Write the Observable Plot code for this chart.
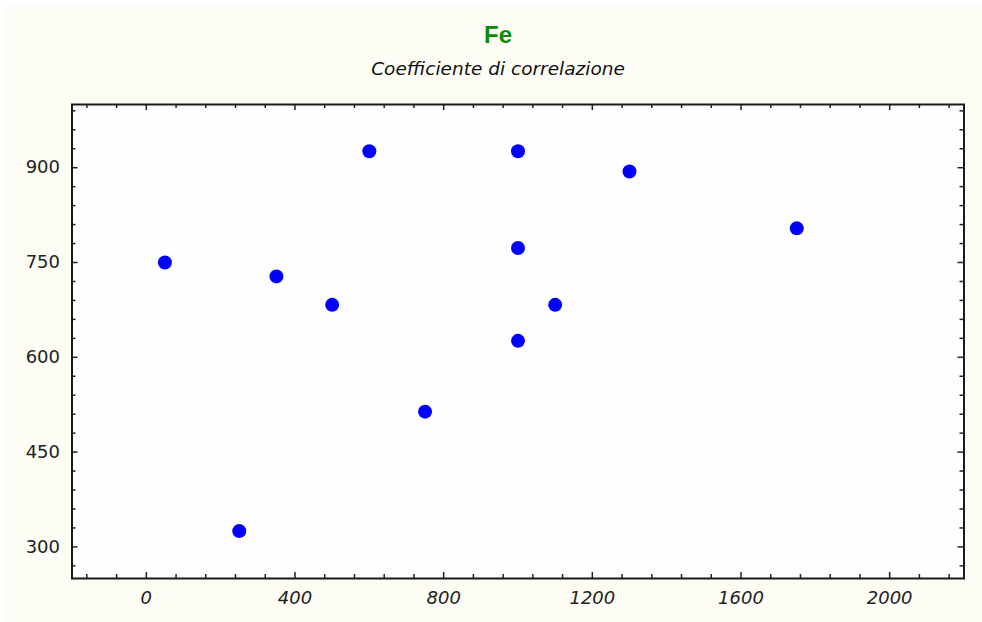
<!DOCTYPE html>
<html>
<head>
<meta charset="utf-8">
<script src="https://cdn.jsdelivr.net/npm/d3@7"></script>
<script src="https://cdn.jsdelivr.net/npm/@observablehq/plot@0.6"></script>
<style>
  html, body { margin: 0; padding: 0; background: #ffffff; width: 982px; height: 622px; overflow: hidden; }
  #bg { position: absolute; left: 4px; top: 6px; right: 0; bottom: 0; background: #fdfdf5; }
  #title { position: absolute; left: 0; width: 996px; top: 21px; text-align: center; line-height: 28px;
           font-family: "Liberation Sans", Arial, sans-serif; font-weight: bold; font-size: 24px; color: #0a8a0a; }
  #subtitle { position: absolute; left: 0; width: 996px; top: 58px; text-align: center; line-height: 22px;
              font-family: "DejaVu Sans", Verdana, sans-serif; font-style: italic; font-size: 18.5px; color: #111; }
  #chart { position: absolute; left: 0; top: 90px; }
</style>
</head>
<body>
<div id="bg"></div>
<div id="title">Fe</div>
<div id="subtitle">Coefficiente di correlazione</div>
<div id="chart"></div>
<script>
// Data
const xValues = [50, 250, 350, 500, 600, 750, 1000, 1000, 1000, 1100, 1300, 1750];
const yValues = [750, 325, 728, 683, 926, 514, 926, 773, 626, 683, 894, 804];
const xTicks = [0, 400, 800, 1200, 1600, 2000];
const yTicks = [300, 450, 600, 750, 900];
const xDomain = [-200, 2200];
const yDomain = [250, 1000];

const points = xValues.map((x, i) => ({x, y: yValues[i]}));
const xMinor = d3.range(-160, 2200, 80).filter(v => !xTicks.includes(v));
const yMinor = d3.range(270, 1000, 30).filter(v => !yTicks.includes(v));

const W = 982, H = 532;
const mT = 14, mB = 44, mL = 71.5, mR = 18.5;
const iw = W - mL - mR, ih = H - mT - mB;
const tickColor = "#222";
const majorLen = 6, minorLen = 4;
const fmt = d => String(d);

const chart = Plot.plot({
  width: W,
  height: H,
  marginTop: mT,
  marginBottom: mB,
  marginLeft: mL,
  marginRight: mR,
  style: {background: "transparent", fontFamily: "DejaVu Sans, Verdana, sans-serif", fontSize: "18px", color: "#222"},
  x: {domain: xDomain},
  y: {domain: yDomain},
  marks: [
    Plot.frame({fill: "#fefefe", stroke: null}),
    // bottom ticks
    Plot.tickX(xTicks, {x: d => d, insetTop: ih - majorLen, stroke: tickColor, strokeWidth: 1.5}),
    Plot.tickX(xMinor, {x: d => d, insetTop: ih - minorLen, stroke: tickColor, strokeWidth: 1.5}),
    // top ticks
    Plot.tickX(xTicks, {x: d => d, insetBottom: ih - majorLen, stroke: tickColor, strokeWidth: 1.5}),
    Plot.tickX(xMinor, {x: d => d, insetBottom: ih - minorLen, stroke: tickColor, strokeWidth: 1.5}),
    // left ticks
    Plot.tickY(yTicks, {y: d => d, insetRight: iw - majorLen, stroke: tickColor, strokeWidth: 1.5}),
    Plot.tickY(yMinor, {y: d => d, insetRight: iw - minorLen, stroke: tickColor, strokeWidth: 1.5}),
    // right ticks
    Plot.tickY(yTicks, {y: d => d, insetLeft: iw - majorLen, stroke: tickColor, strokeWidth: 1.5}),
    Plot.tickY(yMinor, {y: d => d, insetLeft: iw - minorLen, stroke: tickColor, strokeWidth: 1.5}),
    Plot.axisX({ticks: xTicks, tickFormat: fmt, tickSize: 0, tickPadding: 13, label: null, fontStyle: "italic", fontSize: 18, fill: "#222"}),
    Plot.axisY({ticks: yTicks, tickFormat: fmt, tickSize: 0, tickPadding: 12, label: null, fontSize: 18, fill: "#222"}),
    Plot.dot(points, {x: "x", y: "y", r: 7, fill: "#0000ff", stroke: null}),
    Plot.frame({stroke: "#1a1a1a", strokeWidth: 2})
  ]
});
document.getElementById("chart").appendChild(chart);
</script>
</body>
</html>
